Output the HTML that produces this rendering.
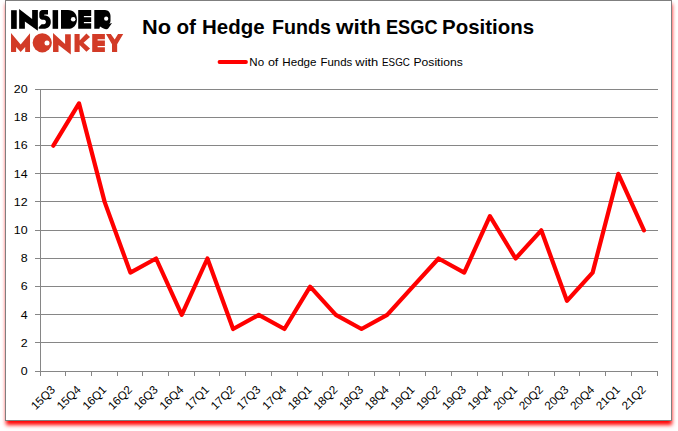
<!DOCTYPE html>
<html><head><meta charset="utf-8">
<style>
html,body{margin:0;padding:0;background:#fff;}
body{width:678px;height:431px;position:relative;overflow:hidden;}
#frame{position:absolute;left:5px;top:0px;width:665px;height:419px;border:1px solid #7f7f7f;background:#fff;}
#shadow{position:absolute;left:6px;top:0px;width:666px;height:421px;box-shadow:0px 4px 4px #ff0000;}
svg{position:absolute;left:0;top:0;}
.t{font-family:"Liberation Sans",sans-serif;}
</style></head><body>
<div id="shadow"></div><div id="frame"></div>
<svg width="678" height="431" viewBox="0 0 678 431">

<g fill="#000">
  <rect x="11.1" y="10.2" width="5.65" height="18.7"/>
  <polygon points="19.16,9.02 32.13,18.97 32.13,10.10 37.86,10.10 37.86,30.74 24.89,21.38 24.89,28.81 19.16,28.81"/>
  <path d="M42.5 10.1 L48 10.1 L48 14.6 L44.3 14.6 L44.3 15.6 C48.5 15.6 50.8 18.2 50.8 22 C50.8 26 48 28.8 43.5 28.8 L38.7 28.8 L38.7 27.2 L41.6 24.2 L44 24.2 C45.2 24.2 45.9 23.2 45.9 22 C45.9 20.8 45.2 19.8 44 19.8 L42.5 19.8 C40.7 19.8 39.3 18.3 39.3 16.5 L39.3 13.3 C39.3 11.5 40.7 10.1 42.5 10.1 Z"/>
  <rect x="52.6" y="10.1" width="5.5" height="18.7"/>
  <path d="M61 10.1 L68 10.1 C73.6 10.1 76.9 14.2 76.9 19.45 C76.9 24.7 73.6 28.8 68 28.8 L61 28.8 Z"/>
  <path d="M78.2 10.1 L91.2 10.1 L91.2 16 L83.9 16 L83.9 17.2 L91.2 17.2 L91.2 22 L83.9 22 L83.9 23.3 L91.2 23.3 L91.2 28.8 L78.2 28.8 Z"/>
  <path d="M94.3 10.1 L105 10.1 C108.4 10.1 110.5 13 110.5 16 L110.5 21 C110.5 22 110.1 22.8 109.3 23.7 L112 23.1 L108.4 28.2 C107.8 29 107 29.3 106 29.2 C103.3 28.8 101.6 27.6 100 26.6 L99.4 28.8 L94.3 28.8 Z"/>
</g>
<circle cx="73.2" cy="19.2" r="2.3" fill="#fff"/>
<circle cx="106.2" cy="18.7" r="2.1" fill="#fff"/>
<g fill="#d23b27">
  <polygon points="11.02,33.02 20.67,44.48 30.02,33.32 30.02,51.9 25.19,51.9 25.19,46.89 20.67,51.9 16.14,46.89 16.14,51.9 11.02,51.9"/>
  <circle cx="42.25" cy="42.8" r="9.6"/>
  <polygon points="53.05,33 65.1,44 65.1,34.2 70.8,34.2 70.8,54.4 58.5,45 58.5,51.9 53.05,51.9"/>
  <polygon points="74.52,33.92 79.65,33.92 79.65,40.56 86.41,33.50 90.03,37.12 83.57,42.79 90.03,48.40 86.41,51.84 79.65,45.08 79.65,51.9 74.52,51.9"/>
  <path d="M92.2 33.9 L104.9 33.9 L104.9 39.3 L97.6 39.3 L97.6 40.5 L104.9 40.5 L104.9 46 L97.6 46 L97.6 47.2 L104.9 47.2 L104.9 51.9 L92.2 51.9 Z"/>
  <polygon points="106,33.9 110.8,33.9 114.7,39.6 118.05,33.9 123.2,33.9 117.15,44.2 117.15,51.9 112,51.9 112,44.2"/>
</g>
<circle cx="47" cy="43" r="2.5" fill="#fff"/>

<text class="t" x="142.00" y="33.9" font-size="21" font-weight="bold" fill="#000" textLength="29.00" lengthAdjust="spacingAndGlyphs">No</text><text class="t" x="176.50" y="33.9" font-size="21" font-weight="bold" fill="#000" textLength="19.47" lengthAdjust="spacingAndGlyphs">of</text><text class="t" x="202.00" y="33.9" font-size="21" font-weight="bold" fill="#000" textLength="62.51" lengthAdjust="spacingAndGlyphs">Hedge</text><text class="t" x="272.00" y="33.9" font-size="21" font-weight="bold" fill="#000" textLength="59.01" lengthAdjust="spacingAndGlyphs">Funds</text><text class="t" x="336.00" y="33.9" font-size="21" font-weight="bold" fill="#000" textLength="45.02" lengthAdjust="spacingAndGlyphs">with</text><text class="t" x="386.00" y="33.9" font-size="21" font-weight="bold" fill="#000" textLength="51.50" lengthAdjust="spacingAndGlyphs">ESGC</text><text class="t" x="442.00" y="33.9" font-size="21" font-weight="bold" fill="#000" textLength="92.02" lengthAdjust="spacingAndGlyphs">Positions</text>
<line x1="219.5" y1="62" x2="246" y2="62" stroke="#ff0000" stroke-width="3.8" stroke-linecap="round"/>
<text class="t" x="249.30" y="65.9" font-size="11.3" fill="#000" textLength="14.76" lengthAdjust="spacingAndGlyphs">No</text><text class="t" x="267.90" y="65.9" font-size="11.3" fill="#000" textLength="10.47" lengthAdjust="spacingAndGlyphs">of</text><text class="t" x="282.30" y="65.9" font-size="11.3" fill="#000" textLength="34.21" lengthAdjust="spacingAndGlyphs">Hedge</text><text class="t" x="320.50" y="65.9" font-size="11.3" fill="#000" textLength="31.82" lengthAdjust="spacingAndGlyphs">Funds</text><text class="t" x="355.30" y="65.9" font-size="11.3" fill="#000" textLength="22.98" lengthAdjust="spacingAndGlyphs">with</text><text class="t" x="382.10" y="65.9" font-size="11.3" fill="#000" textLength="27.71" lengthAdjust="spacingAndGlyphs">ESGC</text><text class="t" x="413.50" y="65.9" font-size="11.3" fill="#000" textLength="49.23" lengthAdjust="spacingAndGlyphs">Positions</text>
<line x1="35" y1="371.50" x2="658" y2="371.50" stroke="#868686" stroke-width="1"/><line x1="35" y1="342.50" x2="658" y2="342.50" stroke="#868686" stroke-width="1"/><line x1="35" y1="314.50" x2="658" y2="314.50" stroke="#868686" stroke-width="1"/><line x1="35" y1="286.50" x2="658" y2="286.50" stroke="#868686" stroke-width="1"/><line x1="35" y1="258.50" x2="658" y2="258.50" stroke="#868686" stroke-width="1"/><line x1="35" y1="230.50" x2="658" y2="230.50" stroke="#868686" stroke-width="1"/><line x1="35" y1="201.50" x2="658" y2="201.50" stroke="#868686" stroke-width="1"/><line x1="35" y1="173.50" x2="658" y2="173.50" stroke="#868686" stroke-width="1"/><line x1="35" y1="145.50" x2="658" y2="145.50" stroke="#868686" stroke-width="1"/><line x1="35" y1="117.50" x2="658" y2="117.50" stroke="#868686" stroke-width="1"/><line x1="35" y1="89.50" x2="658" y2="89.50" stroke="#868686" stroke-width="1"/><line x1="40.5" y1="89" x2="40.5" y2="376" stroke="#868686" stroke-width="1"/><line x1="40.50" y1="371" x2="40.50" y2="376" stroke="#868686" stroke-width="1"/><line x1="65.50" y1="371" x2="65.50" y2="376" stroke="#868686" stroke-width="1"/><line x1="91.50" y1="371" x2="91.50" y2="376" stroke="#868686" stroke-width="1"/><line x1="117.50" y1="371" x2="117.50" y2="376" stroke="#868686" stroke-width="1"/><line x1="142.50" y1="371" x2="142.50" y2="376" stroke="#868686" stroke-width="1"/><line x1="168.50" y1="371" x2="168.50" y2="376" stroke="#868686" stroke-width="1"/><line x1="194.50" y1="371" x2="194.50" y2="376" stroke="#868686" stroke-width="1"/><line x1="219.50" y1="371" x2="219.50" y2="376" stroke="#868686" stroke-width="1"/><line x1="245.50" y1="371" x2="245.50" y2="376" stroke="#868686" stroke-width="1"/><line x1="271.50" y1="371" x2="271.50" y2="376" stroke="#868686" stroke-width="1"/><line x1="297.50" y1="371" x2="297.50" y2="376" stroke="#868686" stroke-width="1"/><line x1="322.50" y1="371" x2="322.50" y2="376" stroke="#868686" stroke-width="1"/><line x1="348.50" y1="371" x2="348.50" y2="376" stroke="#868686" stroke-width="1"/><line x1="374.50" y1="371" x2="374.50" y2="376" stroke="#868686" stroke-width="1"/><line x1="399.50" y1="371" x2="399.50" y2="376" stroke="#868686" stroke-width="1"/><line x1="425.50" y1="371" x2="425.50" y2="376" stroke="#868686" stroke-width="1"/><line x1="451.50" y1="371" x2="451.50" y2="376" stroke="#868686" stroke-width="1"/><line x1="477.50" y1="371" x2="477.50" y2="376" stroke="#868686" stroke-width="1"/><line x1="502.50" y1="371" x2="502.50" y2="376" stroke="#868686" stroke-width="1"/><line x1="528.50" y1="371" x2="528.50" y2="376" stroke="#868686" stroke-width="1"/><line x1="554.50" y1="371" x2="554.50" y2="376" stroke="#868686" stroke-width="1"/><line x1="579.50" y1="371" x2="579.50" y2="376" stroke="#868686" stroke-width="1"/><line x1="605.50" y1="371" x2="605.50" y2="376" stroke="#868686" stroke-width="1"/><line x1="631.50" y1="371" x2="631.50" y2="376" stroke="#868686" stroke-width="1"/><line x1="657.50" y1="371" x2="657.50" y2="376" stroke="#868686" stroke-width="1"/>
<g class="t" font-size="11" fill="#000"><text transform="translate(27.6 374.95) scale(1.13 1)" text-anchor="end">0</text><text transform="translate(27.6 346.75) scale(1.13 1)" text-anchor="end">2</text><text transform="translate(27.6 318.55) scale(1.13 1)" text-anchor="end">4</text><text transform="translate(27.6 290.35) scale(1.13 1)" text-anchor="end">6</text><text transform="translate(27.6 262.15) scale(1.13 1)" text-anchor="end">8</text><text transform="translate(27.6 233.95) scale(1.13 1)" text-anchor="end">10</text><text transform="translate(27.6 205.75) scale(1.13 1)" text-anchor="end">12</text><text transform="translate(27.6 177.55) scale(1.13 1)" text-anchor="end">14</text><text transform="translate(27.6 149.35) scale(1.13 1)" text-anchor="end">16</text><text transform="translate(27.6 121.15) scale(1.13 1)" text-anchor="end">18</text><text transform="translate(27.6 92.95) scale(1.13 1)" text-anchor="end">20</text></g>
<g class="t" font-size="11.6" fill="#000"><text x="55.84" y="390.50" text-anchor="end" transform="rotate(-45 55.84 390.50)">15Q3</text><text x="81.52" y="390.50" text-anchor="end" transform="rotate(-45 81.52 390.50)">15Q4</text><text x="107.20" y="390.50" text-anchor="end" transform="rotate(-45 107.20 390.50)">16Q1</text><text x="132.88" y="390.50" text-anchor="end" transform="rotate(-45 132.88 390.50)">16Q2</text><text x="158.56" y="390.50" text-anchor="end" transform="rotate(-45 158.56 390.50)">16Q3</text><text x="184.24" y="390.50" text-anchor="end" transform="rotate(-45 184.24 390.50)">16Q4</text><text x="209.92" y="390.50" text-anchor="end" transform="rotate(-45 209.92 390.50)">17Q1</text><text x="235.60" y="390.50" text-anchor="end" transform="rotate(-45 235.60 390.50)">17Q2</text><text x="261.28" y="390.50" text-anchor="end" transform="rotate(-45 261.28 390.50)">17Q3</text><text x="286.96" y="390.50" text-anchor="end" transform="rotate(-45 286.96 390.50)">17Q4</text><text x="312.64" y="390.50" text-anchor="end" transform="rotate(-45 312.64 390.50)">18Q1</text><text x="338.32" y="390.50" text-anchor="end" transform="rotate(-45 338.32 390.50)">18Q2</text><text x="364.00" y="390.50" text-anchor="end" transform="rotate(-45 364.00 390.50)">18Q3</text><text x="389.68" y="390.50" text-anchor="end" transform="rotate(-45 389.68 390.50)">18Q4</text><text x="415.36" y="390.50" text-anchor="end" transform="rotate(-45 415.36 390.50)">19Q1</text><text x="441.04" y="390.50" text-anchor="end" transform="rotate(-45 441.04 390.50)">19Q2</text><text x="466.72" y="390.50" text-anchor="end" transform="rotate(-45 466.72 390.50)">19Q3</text><text x="492.40" y="390.50" text-anchor="end" transform="rotate(-45 492.40 390.50)">19Q4</text><text x="518.08" y="390.50" text-anchor="end" transform="rotate(-45 518.08 390.50)">20Q1</text><text x="543.76" y="390.50" text-anchor="end" transform="rotate(-45 543.76 390.50)">20Q2</text><text x="569.44" y="390.50" text-anchor="end" transform="rotate(-45 569.44 390.50)">20Q3</text><text x="595.12" y="390.50" text-anchor="end" transform="rotate(-45 595.12 390.50)">20Q4</text><text x="620.80" y="390.50" text-anchor="end" transform="rotate(-45 620.80 390.50)">21Q1</text><text x="646.48" y="390.50" text-anchor="end" transform="rotate(-45 646.48 390.50)">21Q2</text></g>
<polyline shape-rendering="geometricPrecision" points="53.34,145.70 79.02,103.40 104.70,202.10 130.38,272.60 156.06,258.50 181.74,314.90 207.42,258.50 233.10,329.00 258.78,314.90 284.46,329.00 310.14,286.70 335.82,314.90 361.50,329.00 387.18,314.90 412.86,286.70 438.54,258.50 464.22,272.60 489.90,216.20 515.58,258.50 541.26,230.30 566.94,300.80 592.62,272.60 618.30,173.90 643.98,230.30" fill="none" stroke="#ff0000" stroke-width="4.2" stroke-linejoin="round" stroke-linecap="round"/>
</svg>
</body></html>
